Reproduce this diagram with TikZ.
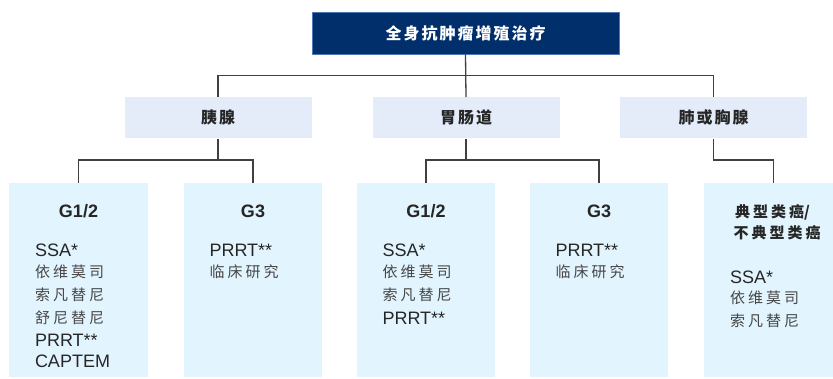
\documentclass[tikz,border=0pt]{standalone}
\usepackage{fontspec}
\setmainfont{Liberation Sans}
\newfontfamily\cjk{Noto Sans CJK SC}[LetterSpace=20]
\newfontfamily\cjkt{Noto Sans CJK SC}[LetterSpace=12.5]
\newfontfamily\cjkm{Noto Sans CJK SC}[LetterSpace=12.5]
\definecolor{topblue}{RGB}{0,47,108}
\definecolor{topedge}{RGB}{80,120,180}
\definecolor{midblue}{RGB}{228,236,250}
\definecolor{lowblue}{RGB}{226,244,253}
\definecolor{linegray}{RGB}{64,64,64}
\definecolor{txt}{RGB}{38,38,38}
\definecolor{hantxt}{RGB}{70,70,70}
\begin{document}
\begin{tikzpicture}[x=1pt,y=-1pt,
  conn/.style={draw=linegray, line width=1.3pt},
  topbox/.style={fill=topblue, draw=topedge, line width=0.6pt, minimum width=307pt, minimum height=41.5pt, inner sep=0pt, text=white, font=\cjkt\bfseries\fontsize{16}{18}\selectfont},
  midbox/.style={fill=midblue, minimum width=187pt, minimum height=41pt, inner sep=0pt, text=txt, font=\cjkm\bfseries\fontsize{16}{18}\selectfont},
  lowbox/.style={fill=lowblue, minimum width=138.4pt, minimum height=194pt, inner sep=0pt},
  head/.style={inner sep=0pt, text=txt, font=\bfseries\fontsize{18}{20}\selectfont},
  hanhead/.style={inner sep=0pt, text=txt, font=\cjk\bfseries\fontsize{15}{18}\selectfont},
  lat/.style={anchor=west, inner sep=0pt, text=txt, font=\fontsize{18}{20}\selectfont},
  han/.style={anchor=west, inner sep=0pt, text=hantxt, font=\cjk\fontsize{15}{18}\selectfont},
]
\useasboundingbox (0,0) rectangle (833,378);
\clip (0,0) rectangle (833,378);

% top
\node[topbox] (top) at (465.5,33.3) {全身抗肿瘤增殖治疗};

% middle level
\node[midbox] (m1) at (218,117.8) {胰腺};
\node[midbox] (m2) at (466,117.8) {胃肠道};
\node[midbox] (m3) at (713.5,117.8) {肺或胸腺};

% bottom boxes
\node[lowbox] (b1) at (78.5,280) {};
\node[lowbox] (b2) at (253,280) {};
\node[lowbox] (b3) at (426,280) {};
\node[lowbox] (b4) at (599,280) {};
\node[lowbox] (b5) at (773.5,280) {};

% connectors
\coordinate (barY) at (0,75.7);
\coordinate (lowY) at (0,160);
\draw[conn] (top.south) -- (m2.north);
\draw[conn] (m1.north) |- (m2.north |- barY) -| (m3.north);
\draw[conn] (m1.south) -- (m1.south |- lowY);
\draw[conn] (b1.north) |- (m1.south |- lowY) -| (b2.north);
\draw[conn] (m2.south) -- (m2.south |- lowY);
\draw[conn] (b3.north) |- (m2.south |- lowY) -| (b4.north);
\draw[conn] (m3.south) |- (b5.north |- lowY) -- (b5.north);

% box 1
\node[head] (h1) at (78.5,211) {G1/2};
\node[lat] (b1a) at (34.8,250) {SSA*};
\node[han] (b1b) at (34.8,272) {依维莫司};
\node[han] (b1c) at (34.8,295) {索凡替尼};
\node[han] (b1d) at (34.8,318) {舒尼替尼};
\node[lat] (b1e) at (34.8,340) {PRRT**};
\node[lat] (b1f) at (34.8,361) {CAPTEM};

% box 2
\node[head] (h2) at (253,211) {G3};
\node[lat] (b2a) at (209.3,250) {PRRT**};
\node[han] (b2b) at (209.3,272) {临床研究};

% box 3
\node[head] (h3) at (426,211) {G1/2};
\node[lat] (b3a) at (382.3,250) {SSA*};
\node[han] (b3b) at (382.3,272) {依维莫司};
\node[han] (b3c) at (382.3,295) {索凡替尼};
\node[lat] (b3d) at (382.3,318) {PRRT**};

% box 4
\node[head] (h4) at (599,211) {G3};
\node[lat] (b4a) at (555.3,250) {PRRT**};
\node[han] (b4b) at (555.3,272) {临床研究};

% box 5
\node[hanhead] (h5a) at (772.5,212) {典型类癌{\addfontfeature{LetterSpace=0}/}};
\node[hanhead] (h5b) at (777,233) {不典型类癌};
\node[lat] (b5a) at (729.8,277) {SSA*};
\node[han] (b5b) at (729.8,298) {依维莫司};
\node[han] (b5c) at (729.8,321) {索凡替尼};
\end{tikzpicture}
\end{document}
